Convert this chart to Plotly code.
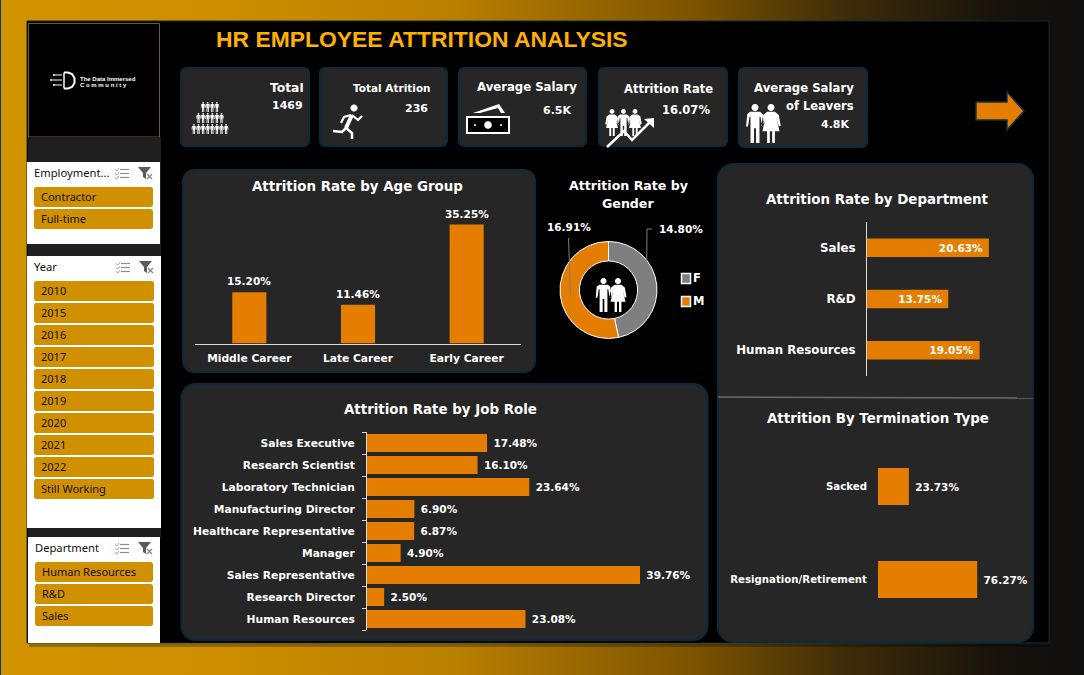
import math
import urllib.parse
import plotly.graph_objects as go

# ---- data ----
age_groups = ["Middle Career", "Late Career", "Early Career"]
age_rates = [15.20, 11.46, 35.25]
job_roles = ["Sales Executive", "Research Scientist", "Laboratory Technician",
             "Manufacturing Director", "Healthcare Representative", "Manager",
             "Sales Representative", "Research Director", "Human Resources"]
job_rates = [17.48, 16.10, 23.64, 6.90, 6.87, 4.90, 39.76, 2.50, 23.08]
departments = ["Sales", "R&D", "Human Resources"]
dept_rates = [20.63, 13.75, 19.05]
termination_types = ["Sacked", "Resignation/Retirement"]
termination_rates = [23.73, 76.27]
genders = ["F", "M"]
gender_rates = [14.80, 16.91]
employment_items = ["Contractor", "Full-time"]
year_items = ["2010", "2015", "2016", "2017", "2018", "2019", "2020", "2021", "2022", "Still Working"]
department_items = ["Human Resources", "R&D", "Sales"]

# ---- palette and fonts ----
W, H = 1084, 675
ORANGE = "#E57E00"
GOLD = "#FFB000"
CARD = "#262626"
EDGE = "#0D2A3A"
BTN = "#D09000"
HEAD = "Liberation Sans"
WIDE = "DejaVu Sans"


def fx(x):
    return x / W


def fy(y):
    return 1 - y / H


shapes, notes = [], []


def to_path(points):
    return "M " + " L ".join(f"{fx(x):.5f} {fy(y):.5f}" for x, y in points) + " Z "


def line_path(points):
    return "M " + " L ".join(f"{fx(x):.5f} {fy(y):.5f}" for x, y in points) + " "


def rect(x0, y0, x1, y1, fill, line=None, lw=0, layer="below"):
    shapes.append(dict(type="rect", xref="paper", yref="paper", x0=fx(x0), x1=fx(x1),
                       y0=fy(y0), y1=fy(y1), fillcolor=fill, layer=layer,
                       line=dict(color=line or fill, width=lw)))


def rounded(x0, y0, x1, y1, r, fill, line=None, lw=0, layer="below"):
    pts = []
    for cx, cy, start in [(x1 - r, y0 + r, -90), (x1 - r, y1 - r, 0), (x0 + r, y1 - r, 90), (x0 + r, y0 + r, 180)]:
        for k in range(7):
            a = math.radians(start + k * 15)
            pts.append((cx + r * math.cos(a), cy + r * math.sin(a)))
    shapes.append(dict(type="path", xref="paper", yref="paper", path=to_path(pts), fillcolor=fill,
                       layer=layer, line=dict(color=line or fill, width=lw)))


def draw(path, fill="#FFFFFF", line="rgba(0,0,0,0)", lw=0):
    shapes.append(dict(type="path", xref="paper", yref="paper", path=path, fillcolor=fill,
                       layer="above", line=dict(color=line, width=lw)))


def stroke(points, color="#FFFFFF", lw=1.0):
    shapes.append(dict(type="path", xref="paper", yref="paper", path=line_path(points),
                       layer="above", line=dict(color=color, width=lw)))


def text(x, y, s, size=11, color="#FFFFFF", font=WIDE, anchor="center", bold=True):
    # annotation boxes carry about 2px of padding, taken off here so x is the ink edge
    nudge = {"left": -2, "right": 2, "center": 0}[anchor]
    notes.append(dict(xref="paper", yref="paper", x=fx(x + nudge), y=fy(y), text=f"<b>{s}</b>" if bold else s,
                      showarrow=False, xanchor=anchor, yanchor="middle",
                      font=dict(family=font, size=size, color=color), align=anchor))


def disc(cx, cy, r, n=14):
    return to_path([(cx + r * math.cos(2 * math.pi * k / n), cy + r * math.sin(2 * math.pi * k / n)) for k in range(n)])


MALE = [(-.13, .2), (.13, .2), (.2, .26), (.23, .58), (.18, .58), (.14, .33), (.115, .33), (.115, 1), (.025, 1),
        (.025, .62), (-.025, .62), (-.025, 1), (-.115, 1), (-.115, .33), (-.14, .33), (-.18, .58), (-.23, .58), (-.2, .26)]
FEMALE = [(-.1, .2), (.1, .2), (.2, .28), (.25, .56), (.2, .58), (.13, .34), (.22, .7), (.1, .7), (.1, 1), (.03, 1),
          (.03, .7), (-.03, .7), (-.03, 1), (-.1, 1), (-.1, .7), (-.22, .7), (-.13, .34), (-.2, .58), (-.25, .56), (-.2, .28)]


def person(cx, top, h, shape):
    return disc(cx, top + .09 * h, .09 * h) + to_path([(cx + a * h, top + b * h) for a, b in shape])


# ---- page backdrop and panels ----
gradient = ("<svg xmlns='http://www.w3.org/2000/svg' width='1084' height='675' preserveAspectRatio='none'>"
            "<defs><linearGradient id='g'>"
            "<stop offset='0' stop-color='#D29300'/><stop offset='0.2' stop-color='#CD8E00'/>"
            "<stop offset='0.42' stop-color='#B97F00'/><stop offset='0.645' stop-color='#7A5200'/>"
            "<stop offset='0.78' stop-color='#3E2C0A'/><stop offset='0.92' stop-color='#17130B'/>"
            "<stop offset='1' stop-color='#0F0F0F'/></linearGradient></defs>"
            "<rect width='1084' height='675' fill='url(#g)'/></svg>")
images = [dict(source="data:image/svg+xml," + urllib.parse.quote(gradient), xref="paper", yref="paper",
               x=0, y=1, sizex=1, sizey=1, sizing="stretch", xanchor="left", yanchor="top", layer="below")]

rect(0, 0, 1, 675, "#123A5A")
rect(29, 644, 1050, 647, "rgba(0,0,0,0.28)")
rect(27, 21, 1049, 643, "#000000", EDGE, 1)

# logo box
rect(28.5, 23.5, 159.5, 137, "#000000", "#7A5A12", 1)
stroke([(64, 72.5), (68, 72.5), (72, 74), (74.5, 78), (74.5, 83), (72, 87), (68, 88.5), (64, 88.5)], lw=2)
stroke([(64, 72.5), (64, 88.5)], lw=1.5)
for a, b, c in [(55, 75, 62), (52, 80, 62), (55, 85, 62)]:
    stroke([(a, b), (c, b)], lw=1)
draw(disc(54, 75, 1) + disc(51, 80, 1) + disc(54, 85, 1))
text(80, 78.5, "The Data Immersed", size=6, font=HEAD, anchor="left")
text(80, 84.5, "C o m m u n i t y", size=6, font=HEAD, anchor="left")

# KPI cards
for x0, x1, y1 in [(180, 310, 147), (319, 448, 147), (458, 587, 147), (598, 728, 147), (738, 868, 148)]:
    rounded(x0 + 1, 68, x1 - 1, y1 - 1, 5, CARD, EDGE, 2)
# chart cards
rounded(183, 170, 535, 372, 11, CARD, EDGE, 2)
rounded(181.5, 384, 707.5, 640, 14, CARD, EDGE, 2)
rounded(718, 164, 1033, 642, 15, CARD, EDGE, 2)
shapes.append(dict(type="line", xref="paper", yref="paper", x0=fx(718), x1=fx(1033), y0=fy(397), y1=fy(398),
                   layer="below", line=dict(color="#6A6A6A", width=1.5)))

# arrow at the top right
draw(to_path([(976, 102), (1007, 102), (1007, 92), (1024, 111), (1007, 130), (1007, 120), (976, 120)]),
     fill=ORANGE, line="#10324A", lw=1.5)

# ---- slicers ----
def slicer_icons(x, y):
    for k in range(3):
        stroke([(x + 5, y + 1.5 + k * 4), (x + 14, y + 1.5 + k * 4)], color="#8C8C8C", lw=1.2)
        stroke([(x, y + 1.5 + k * 4), (x + 2, y + 3 + k * 4), (x + 4, y + k * 4)], color="#A8A8A8", lw=1)
    draw(to_path([(x + 23, y - 1), (x + 36, y - 1), (x + 31, y + 5), (x + 31, y + 11), (x + 28, y + 9), (x + 28, y + 5)]), fill="#5A5A5A")
    stroke([(x + 32, y + 6), (x + 37, y + 11)], color="#8C8C8C", lw=1.4)
    stroke([(x + 37, y + 6), (x + 32, y + 11)], color="#8C8C8C", lw=1.4)


def slicer(x0, x1, y0, y1, title, items, bx0, bx1, by, tx):
    rect(x0, y0, x1, y1, "#FFFFFF")
    text(tx, y0 + 10.5, title, size=11.2, color="#111111", font="Noto Sans", anchor="left", bold=False)
    slicer_icons(x1 - 45, y0 + 6)
    for i, item in enumerate(items):
        top = by + i * 22
        rounded(bx0, top, bx1, top + 20, 2.5, BTN)
        text(bx0 + 7, top + 9.5, item, size=11, color="#111111", font="Noto Sans", anchor="left", bold=False)


rect(28, 137, 161, 537, "#1F1F1F")
rect(161, 137, 163, 537, "#000000")
slicer(27, 160, 162, 244, "Employment...", employment_items, 34, 153, 187, 34)
slicer(27, 161, 256, 528, "Year", year_items, 34, 154, 281, 34)
slicer(28, 160, 537, 643, "Department", department_items, 35, 153, 562, 35)

# ---- headline and KPI text ----
text(216, 39, "HR EMPLOYEE ATTRITION ANALYSIS", size=22.9, color=GOLD, font=HEAD, anchor="left")
text(304, 88, "Total", size=12.3, anchor="right")
text(303, 105, "1469", size=11, anchor="right")
text(392, 88, "Total Atrition", size=10.5)
text(416, 108, "236", size=11)
text(527, 87, "Average Salary", size=11.7)
text(557, 110, "6.5K", size=11)
text(668, 89, "Attrition Rate", size=11.5)
text(686, 110, "16.07%", size=11.5)
text(804, 88, "Average Salary", size=11.7)
text(854, 106, "of Leavers", size=11.5, anchor="right")
text(835, 125, "4.8K", size=11)

# ---- KPI pictograms ----
crowd = ""
for count, y, step in [(4, 102, 4.6), (6, 113, 4.6), (8, 124, 4.6)]:
    for k in range(count):
        crowd += person(210 + (k - (count - 1) / 2) * step, y, 10, MALE)
draw(crowd)

draw(disc(354, 108, 3.6))
stroke([(352, 115), (346, 128)], lw=4)
stroke([(352, 115), (358, 120), (362, 116)], lw=2.2)
stroke([(351, 115), (344, 117), (341, 123)], lw=2.2)
stroke([(346, 128), (352, 133), (352, 139)], lw=2.6)
stroke([(346, 128), (342, 132), (333, 131)], lw=2.6)

rect(467, 117, 509, 133, "#000000", "#FFFFFF", 2, layer="above")
draw(disc(488, 125, 3.8) + disc(475, 125, 1) + disc(501, 125, 1))
draw(to_path([(473, 113), (499, 104), (505, 113), (501, 113), (498, 108), (480, 113)]))

draw(person(612, 109, 27, FEMALE) + person(623.5, 109, 27, MALE) + person(635, 109, 27, FEMALE))
stroke([(607, 147), (624, 131), (632, 140), (650, 122)], lw=2.5)
draw(to_path([(644, 119), (654, 118), (654, 128)]))

draw(person(755, 104, 39, MALE) + person(771, 104, 39, FEMALE))
draw(person(603.5, 278, 34, MALE) + person(618, 278, 34, FEMALE))

# ---- chart headings and doughnut annotations ----
text(357, 187, "Attrition Rate by Age Group", size=13.4)
text(628, 185, "Attrition Rate by", size=12.6)
text(628, 204, "Gender", size=12.6)
text(877, 199, "Attrition Rate by Department", size=13.4)
text(440.5, 409, "Attrition Rate by Job Role", size=13.4)
text(878, 418, "Attrition By Termination Type", size=13.4)

text(569, 227, f"{gender_rates[1]:.2f}%", size=10.5)
text(681, 229, f"{gender_rates[0]:.2f}%", size=10.5)
stroke([(652, 229), (647, 229), (646.5, 286)], color="#7F7F7F", lw=1)
stroke([(568.5, 238), (570.5, 295)], color="#7F7F7F", lw=1)
rect(681.5, 273.5, 690.5, 283.5, "#7F7F7F", "#FFFFFF", 1.5)
rect(681.5, 296.5, 690.5, 306.5, ORANGE, "#FFFFFF", 1.5)
text(693, 278, genders[0], size=11.5, anchor="left")
text(693, 301, genders[1], size=11.5, anchor="left")

# age-group value labels float a little above their columns
for group, rate in zip(age_groups, age_rates):
    notes.append(dict(xref="x", yref="y", x=group, y=rate, yshift=11, text=f"<b>{rate:.2f}%</b>", showarrow=False,
                      yanchor="middle", font=dict(family=WIDE, size=10.5, color="#FFFFFF")))

# ---- charts ----
LABEL = dict(family=WIDE, size=10.7, color="#FFFFFF")
VALUE = dict(family=WIDE, size=10.5, color="#FFFFFF")
FLAT = dict(color=ORANGE, line=dict(width=0))
GAP = "\u00a0"

fig = go.Figure()

fig.add_trace(go.Bar(x=age_groups, y=age_rates, marker=FLAT, xaxis="x", yaxis="y", width=0.314, hoverinfo="x+y"))
fig.add_trace(go.Bar(x=job_rates, y=job_roles, orientation="h", marker=FLAT, xaxis="x2", yaxis="y2",
                     width=0.82, text=[f"{GAP}<b>{v:.2f}%</b>" for v in job_rates], textposition="outside",
                     textfont=VALUE, constraintext="none", cliponaxis=False, hoverinfo="x+y"))
fig.add_trace(go.Bar(x=dept_rates, y=departments, orientation="h", marker=FLAT, xaxis="x3", yaxis="y3",
                     width=0.36, text=[f"<b>{v:.2f}%</b>{GAP}" for v in dept_rates], textposition="inside",
                     insidetextanchor="end", textangle=0, textfont=VALUE, constraintext="none", hoverinfo="x+y"))
fig.add_trace(go.Bar(x=termination_rates, y=termination_types, orientation="h", marker=FLAT,
                     xaxis="x4", yaxis="y4", width=0.4, text=[f"{GAP}<b>{v:.2f}%</b>" for v in termination_rates],
                     textposition="outside", textfont=VALUE, constraintext="none", cliponaxis=False, hoverinfo="x+y"))
fig.add_trace(go.Pie(labels=genders, values=gender_rates, hole=0.6, sort=False, direction="clockwise", rotation=0,
                     marker=dict(colors=["#7F7F7F", ORANGE], line=dict(color="#FFFFFF", width=1)),
                     textinfo="none", domain=dict(x=[fx(560), fx(657)], y=[fy(338.5), fy(241.5)]),
                     showlegend=False))


def bold_cats(cats):
    return dict(tickmode="array", tickvals=cats, ticktext=[f"<b>{c}</b>" for c in cats])


def value_axis(x0, x1, top, y0):
    return dict(domain=[fx(x0), fx(x1)], range=[0, top], visible=False, anchor=y0, fixedrange=True)


fig.update_layout(
    width=W, height=H, autosize=False, margin=dict(l=0, r=0, t=0, b=0), showlegend=False,
    paper_bgcolor="rgba(0,0,0,0)", plot_bgcolor="rgba(0,0,0,0)", barmode="overlay",
    shapes=shapes, annotations=notes, images=images,
    xaxis=dict(domain=[fx(195), fx(521)], anchor="y", showline=True, linecolor="#D9D9D9", linewidth=1,
               ticks="", tickfont=LABEL, showgrid=False, fixedrange=True, ticklabelstandoff=5, **bold_cats(age_groups)),
    yaxis=dict(domain=[fy(343.5), fy(205)], anchor="x", range=[0, 41.03], visible=False, fixedrange=True),
    xaxis2=value_axis(367, 690, 47.04, "y2"),
    yaxis2=dict(domain=[fy(630), fy(432)], anchor="x2", autorange="reversed", showline=True, linecolor="#D9D9D9",
                linewidth=1, ticks="outside", ticklen=4, tickcolor="#D9D9D9", tickson="boundaries",
                tickfont=LABEL, showgrid=False, ticklabelstandoff=9, fixedrange=True, **bold_cats(job_roles)),
    xaxis3=value_axis(867, 1020, 25.89, "y3"),
    yaxis3=dict(domain=[fy(376), fy(222)], anchor="x3", autorange="reversed", showline=True, linecolor="#D9D9D9",
                linewidth=1, ticks="", tickfont=dict(family=WIDE, size=11.8, color="#FFFFFF"), showgrid=False,
                ticklabelstandoff=8, fixedrange=True, **bold_cats(departments)),
    xaxis4=value_axis(878, 1020, 109.2, "y4"),
    yaxis4=dict(domain=[fy(626), fy(440)], anchor="x4", autorange="reversed", showline=False, ticks="",
                tickfont=dict(family=WIDE, size=10.2, color="#FFFFFF"), showgrid=False, ticklabelstandoff=10,
                fixedrange=True, **bold_cats(termination_types)),
)

fig.write_html("out.html", config=dict(displayModeBar=False))
